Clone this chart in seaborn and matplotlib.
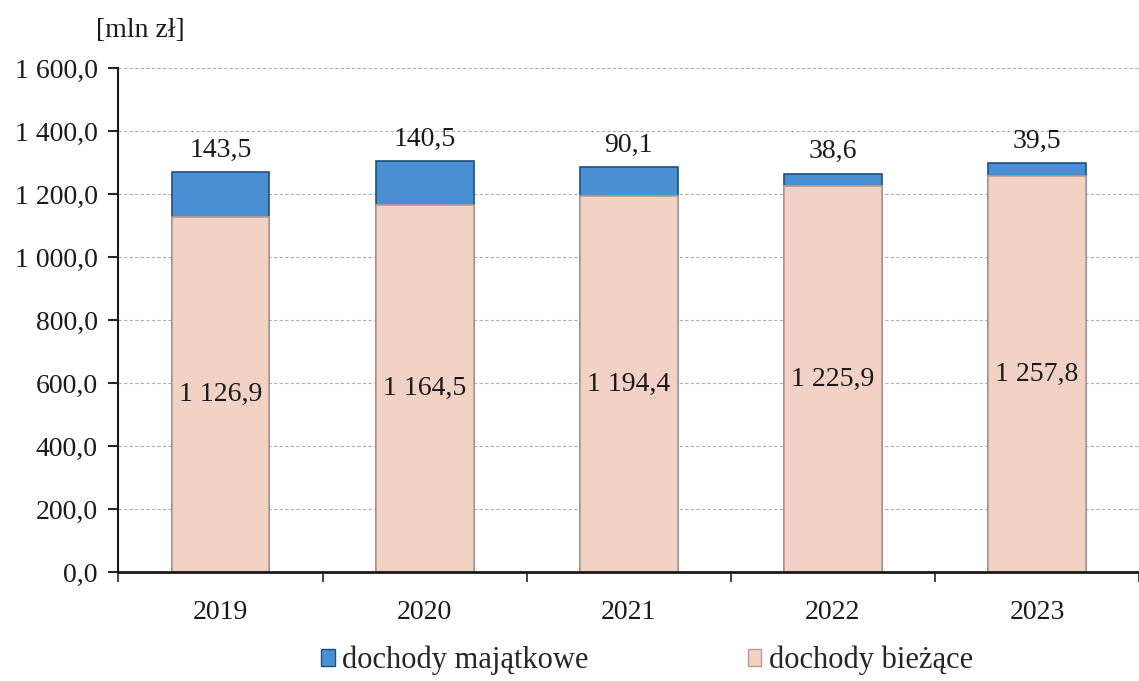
import matplotlib
matplotlib.use("Agg")
import matplotlib.pyplot as plt
import seaborn as sns
import pandas as pd
from matplotlib.patches import Patch

# data (mln zł)
years = ["2019", "2020", "2021", "2022", "2023"]
biezace = [1126.9, 1164.5, 1194.4, 1225.9, 1257.8]
majatkowe = [143.5, 140.5, 90.1, 38.6, 39.5]
yticks = [0, 200, 400, 600, 800, 1000, 1200, 1400, 1600]

blue = "#4a8fd2"
pink = "#f3d2c6"
fs = 20


def pl_fmt(v):
    s = f"{v:,.1f}"
    return s.replace(",", " ").replace(".", ",")


df = pd.DataFrame({"rok": years, "biezace": biezace, "majatkowe": majatkowe})
df["razem"] = df["biezace"] + df["majatkowe"]

sns.set_style("white")
plt.rcParams["font.family"] = ["Liberation Serif", "DejaVu Serif"]

fig = plt.figure(figsize=(11.39, 6.81), dpi=100)
ax = fig.add_axes([0.104, 0.16, 0.896, 0.74])

sns.barplot(data=df, x="rok", y="razem", color=blue, width=0.48,
            edgecolor="#1f4f80", linewidth=1.2, saturation=1, ax=ax)
sns.barplot(data=df, x="rok", y="biezace", color=pink, width=0.48,
            edgecolor="#b89a92", linewidth=1.2, saturation=1, ax=ax)

for i, row in df.iterrows():
    ax.text(i, row["razem"] + 30, pl_fmt(row["majatkowe"]), ha="center",
            va="bottom", fontsize=fs, color="#1a1a1a")
    ax.text(i, row["biezace"] / 2, pl_fmt(row["biezace"]), ha="center",
            va="center", fontsize=fs, color="#1a1a1a")

ax.set_xlim(-0.5, 4.5)
ax.set_ylim(0, 1600)
ax.set_yticks(yticks)
ax.set_yticklabels([pl_fmt(v) for v in yticks], fontsize=fs, color="#1a1a1a")
ax.tick_params(axis="x", labelsize=fs, colors="#1a1a1a", length=0, pad=20)
ax.tick_params(axis="y", length=7, width=1.5, direction="out", left=True,
               pad=8)
ax.set_xticks([-0.5, 0.5, 1.5, 2.5, 3.5, 4.5], minor=True)
ax.tick_params(axis="x", which="minor", length=7, width=1.2, bottom=True)
ax.set_xlabel("")
ax.set_ylabel("")
ax.yaxis.grid(True, linestyle=(0, (3, 2)), color="#b0b0b0", linewidth=0.8)
ax.set_axisbelow(True)

for side in ["top", "right"]:
    ax.spines[side].set_visible(False)
ax.spines["left"].set_color("#1a1a1a")
ax.spines["left"].set_linewidth(1.5)
ax.spines["bottom"].set_color("#1a1a1a")
ax.spines["bottom"].set_linewidth(2)

fig.text(0.123, 0.955, "[mln zł]", fontsize=fs, ha="center", va="center",
         color="#1a1a1a")

handles = [Patch(facecolor=blue, edgecolor="#1f4f80"),
           Patch(facecolor=pink, edgecolor="#b89a92")]
fig.legend(handles, ["dochody majątkowe", "dochody bieżące"], loc="center",
           bbox_to_anchor=(0.568, 0.03), ncol=2, frameon=False, fontsize=22,
           handlelength=0.45, handleheight=0.45, handletextpad=0.25,
           columnspacing=5.2)

fig.savefig("out.png", dpi=100)
